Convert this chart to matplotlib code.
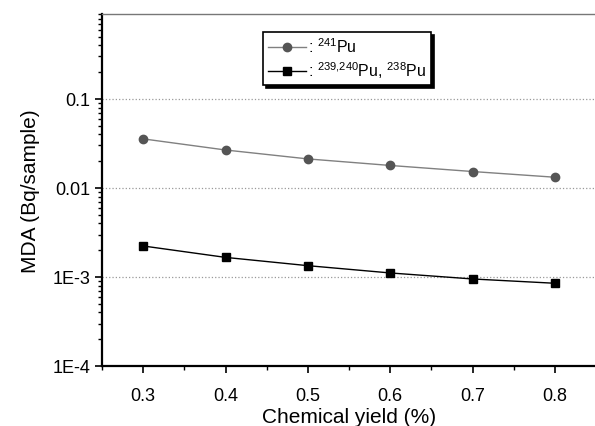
import numpy as np
import matplotlib
matplotlib.use("Agg")
import matplotlib.pyplot as plt
from matplotlib.ticker import FixedLocator, FixedFormatter, LogLocator, MultipleLocator

plt.rcParams['font.family'] = ['Liberation Sans', 'DejaVu Sans']
plt.rcParams['mathtext.fontset'] = 'custom'
plt.rcParams['mathtext.rm'] = 'Liberation Sans'
plt.rcParams['mathtext.default'] = 'regular'

# data
chem_yield = [0.3, 0.4, 0.5, 0.6, 0.7, 0.8]
mda_pu241 = [0.0356, 0.0267, 0.0212, 0.0179, 0.0153, 0.0132]
mda_pu239 = [0.00223, 0.00166, 0.00134, 0.00111, 0.00095, 0.00085]
ytick_vals = [1e-4, 1e-3, 1e-2, 1e-1]
ytick_labels = ['1E-4', '1E-3', '0.01', '0.1']
xtick_vals = [0.3, 0.4, 0.5, 0.6, 0.7, 0.8]

W, H = 595, 427
fig = plt.figure(figsize=(W / 100, H / 100), dpi=100)
# axes placed in pixel terms
left, right, top, bottom = 102, 596, 15, 367
ax = fig.add_axes([left / W, 1 - bottom / H, (right - left) / W, (bottom - top) / H])

ax.plot(chem_yield, mda_pu241, color='#808080', lw=1.0, marker='o', ms=6,
        mfc='#555555', mec='#555555', label=r': $^{241}$Pu')
ax.plot(chem_yield, mda_pu239, color='black', lw=1.0, marker='s', ms=5.5,
        mfc='black', mec='black', label=r': $^{239{,}240}$Pu, $^{238}$Pu')

ax.set_yscale('log')
ax.set_ylim(1e-4, 0.9)
ax.set_xlim(0.25, 0.85)

ax.yaxis.set_major_locator(FixedLocator(ytick_vals))
ax.yaxis.set_major_formatter(FixedFormatter(ytick_labels))
ax.yaxis.set_minor_locator(LogLocator(base=10, subs=np.arange(2, 10)))
ax.yaxis.set_minor_formatter(FixedFormatter([]))
ax.xaxis.set_major_locator(FixedLocator(xtick_vals))
ax.xaxis.set_minor_locator(MultipleLocator(0.05))

ax.tick_params(axis='both', which='major', direction='out', length=5, width=1.2, labelsize=13)
ax.tick_params(axis='both', which='minor', direction='out', length=3, width=1.0)
ax.tick_params(axis='x', pad=10)

for s in ['left', 'bottom']:
    ax.spines[s].set_linewidth(1.6)
ax.spines['top'].set_color('#777777')
ax.spines['top'].set_linewidth(1.0)
ax.spines['right'].set_visible(False)

ax.grid(axis='y', which='major', linestyle=':', color='#999999', lw=0.9)

ax.set_xlabel('Chemical yield (%)', fontsize=15, labelpad=2)
ax.set_ylabel('MDA (Bq/sample)', fontsize=15, labelpad=9)

leg = ax.legend(loc='upper left', bbox_to_anchor=(0.326, 0.949), borderaxespad=0,
                fancybox=False, frameon=True, edgecolor='black', fontsize=11.5,
                handlelength=2.4, handletextpad=0.1, borderpad=0.3, labelspacing=0.25,
                shadow={'color': 'black', 'alpha': 1.0})
leg.get_frame().set_linewidth(1.2)

fig.savefig('out.png', dpi=100)
